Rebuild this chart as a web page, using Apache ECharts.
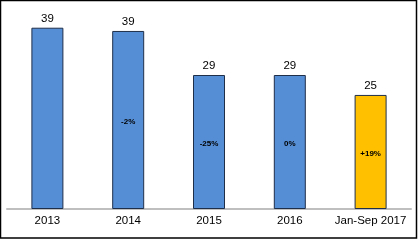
<!DOCTYPE html>
<html><head><meta charset="utf-8">
<script src="https://cdn.jsdelivr.net/npm/echarts@6/dist/echarts.min.js"></script>
<style>html,body{margin:0;padding:0;background:#fff}#c{width:418px;height:240px}</style>
</head><body><div id="c"></div>
<script>
const categories = ['2013', '2014', '2015', '2016', 'Jan-Sep 2017'];
const values = [39.1, 38.4, 28.9, 28.9, 24.6];
const valueLabels = ['39', '39', '29', '29', '25'];
const changeLabels = ['', '-2%', '-25%', '0%', '+19%'];
const barColors = ['#558ed5', '#558ed5', '#558ed5', '#558ed5', '#ffc000'];

const chart = echarts.init(document.getElementById('c'), null, {renderer: 'canvas'});
chart.setOption({
  animation: false,
  backgroundColor: '#fff',
  grid: {left: 7, right: 7, top: 5, bottom: 31},
  xAxis: {
    type: 'category', data: categories,
    axisLine: {lineStyle: {color: '#bfbfbf', width: 2}},
    axisTick: {show: false},
    axisLabel: {interval: 0, color: '#000', fontFamily: 'Liberation Sans, Arial', fontSize: 11.5, margin: 6}
  },
  yAxis: {type: 'value', min: 0, max: 44, show: false, splitLine: {show: false}},
  graphic: [{
    type: 'rect', shape: {x: 0.5, y: 0.5, width: 416, height: 237.5},
    style: {fill: 'none', stroke: '#000', lineWidth: 1.5}, z: 100
  }],
  series: [{
    type: 'bar', barWidth: 32,
    data: values.map((v, i) => ({value: v, itemStyle: {color: barColors[i]}})),
    itemStyle: {borderColor: '#1f2f4a', borderWidth: 1},
    label: {
      show: true, position: 'top', distance: 3, color: '#000',
      fontFamily: 'Liberation Sans, Arial', fontSize: 11.5,
      formatter: p => valueLabels[p.dataIndex]
    }
  }, {
    type: 'bar', barWidth: 32, barGap: '-100%', silent: true,
    data: values,
    itemStyle: {color: 'transparent'},
    label: {
      show: true, position: 'inside', offset: [0, 2], color: '#000',
      fontFamily: 'Liberation Sans, Arial', fontSize: 8, fontWeight: 'bold',
      formatter: p => changeLabels[p.dataIndex]
    }
  }]
});
</script></body></html>
